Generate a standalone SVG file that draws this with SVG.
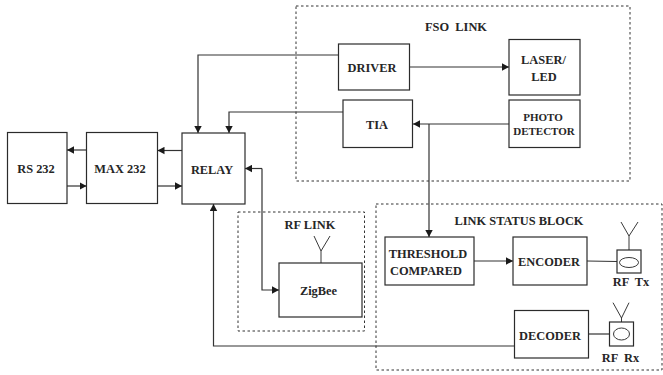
<svg xmlns="http://www.w3.org/2000/svg" width="663" height="375" viewBox="0 0 663 375">
<style>
.b{fill:#fff;stroke:#2b2b2b;stroke-width:1.2}
.d{fill:none;stroke:#333;stroke-width:1;stroke-dasharray:2.5 2.5}
.c{fill:none;stroke:#333;stroke-width:1.2}
.a{fill:none;stroke:#222;stroke-width:.9}
text{font-family:"Liberation Serif","Times New Roman",serif;font-weight:bold;font-size:12.4px;fill:#262626;text-anchor:middle;white-space:pre}
</style>
<defs>
<marker id="h" markerUnits="userSpaceOnUse" markerWidth="8" markerHeight="8" refX="7" refY="4" orient="auto"><path d="M0 .3L7 4L0 7.700z" fill="#1a1a1a"/></marker>
</defs>
<rect width="663" height="375" fill="#fff"/>
<g id="fso-link"><rect class="d" x="296" y="6" width="334" height="175"/><text x="456" y="31">FSO  LINK</text></g>
<g id="rf-link"><rect class="d" x="238" y="212" width="126.500" height="119"/><text x="310" y="229">RF LINK</text></g>
<g id="link-status"><rect class="d" x="376" y="204" width="286" height="166"/><text x="519" y="225">LINK STATUS BLOCK</text></g>
<g id="connectors">
<path class="c" marker-end="url(#h)" d="M86.500 150H67"/>
<path class="c" marker-end="url(#h)" d="M67 186H86.500"/>
<path class="c" marker-end="url(#h)" d="M182 150.500H157.500"/>
<path class="c" marker-end="url(#h)" d="M157.500 186H182"/>
<path class="c" marker-end="url(#h)" d="M338 55H198V133"/>
<path class="c" marker-end="url(#h)" d="M343 112H229V133"/>
<path class="c" marker-end="url(#h)" d="M262 168.500H245"/>
<path class="c" marker-end="url(#h)" d="M262 168.500V290H279"/>
<path class="c" marker-end="url(#h)" d="M514.500 346H213.500V204"/>
<path class="c" marker-end="url(#h)" d="M410 67H509"/>
<path class="c" marker-end="url(#h)" d="M509 124H413"/>
<path class="c" marker-end="url(#h)" d="M429 124V237"/>
<path class="c" marker-end="url(#h)" d="M474 261H513"/>
<path class="c" d="M587 261L617 261.500"/>
<path class="c" d="M589 334H609.500"/>
</g>
<g id="rs232"><rect class="b" x="7.500" y="132.500" width="59.500" height="71"/><text x="36" y="173">RS 232</text></g>
<g id="max232"><rect class="b" x="86.500" y="132.500" width="71" height="71"/><text x="120" y="173">MAX 232</text></g>
<g id="relay"><rect class="b" x="182" y="133" width="63" height="71"/><text x="212" y="174">RELAY</text></g>
<g id="zigbee"><rect class="b" x="279" y="263" width="83" height="54"/><path class="a" d="M321 263V251M314 236L321 251L330 236"/><text x="318.500" y="295">ZigBee</text></g>
<g id="driver"><rect class="b" x="338.500" y="44" width="71" height="46"/><text x="372" y="72">DRIVER</text></g>
<g id="laser"><rect class="b" x="509" y="39.500" width="71" height="55.500"/><text x="543.500" y="64">LASER/</text><text x="544" y="81">LED</text></g>
<g id="tia"><rect class="b" x="343" y="100" width="69.500" height="47.500"/><text x="377" y="129">TIA</text></g>
<g id="photo"><rect class="b" x="509" y="100" width="71" height="47.500"/><text x="543" y="121" style="font-size:11px">PHOTO</text><text x="544" y="135" style="font-size:11px">DETECTOR</text></g>
<g id="threshold"><rect class="b" x="385" y="237" width="89" height="48"/><text x="428" y="258">THRESHOLD</text><text x="426" y="275">COMPARED</text></g>
<g id="encoder"><rect class="b" x="513" y="237" width="74" height="48"/><text x="549" y="266">ENCODER</text></g>
<g id="decoder"><rect class="b" x="514.500" y="310.500" width="74" height="47.500"/><text x="550" y="340">DECODER</text></g>
<g id="rf-tx"><rect class="b" x="617" y="250" width="24" height="23"/><ellipse class="a" cx="629" cy="262.500" rx="9.500" ry="5"/><path class="a" d="M629 250V236M621 222L629 236L638 222"/><text x="631" y="286">RF  Tx</text></g>
<g id="rf-rx"><rect class="b" x="609.500" y="322" width="24" height="24"/><ellipse class="a" cx="621.500" cy="334" rx="8" ry="6"/><path class="a" d="M621.500 322V318M613 302.700L621.500 318L629 302.700"/><text x="620.500" y="362">RF  Rx</text></g>
</svg>
